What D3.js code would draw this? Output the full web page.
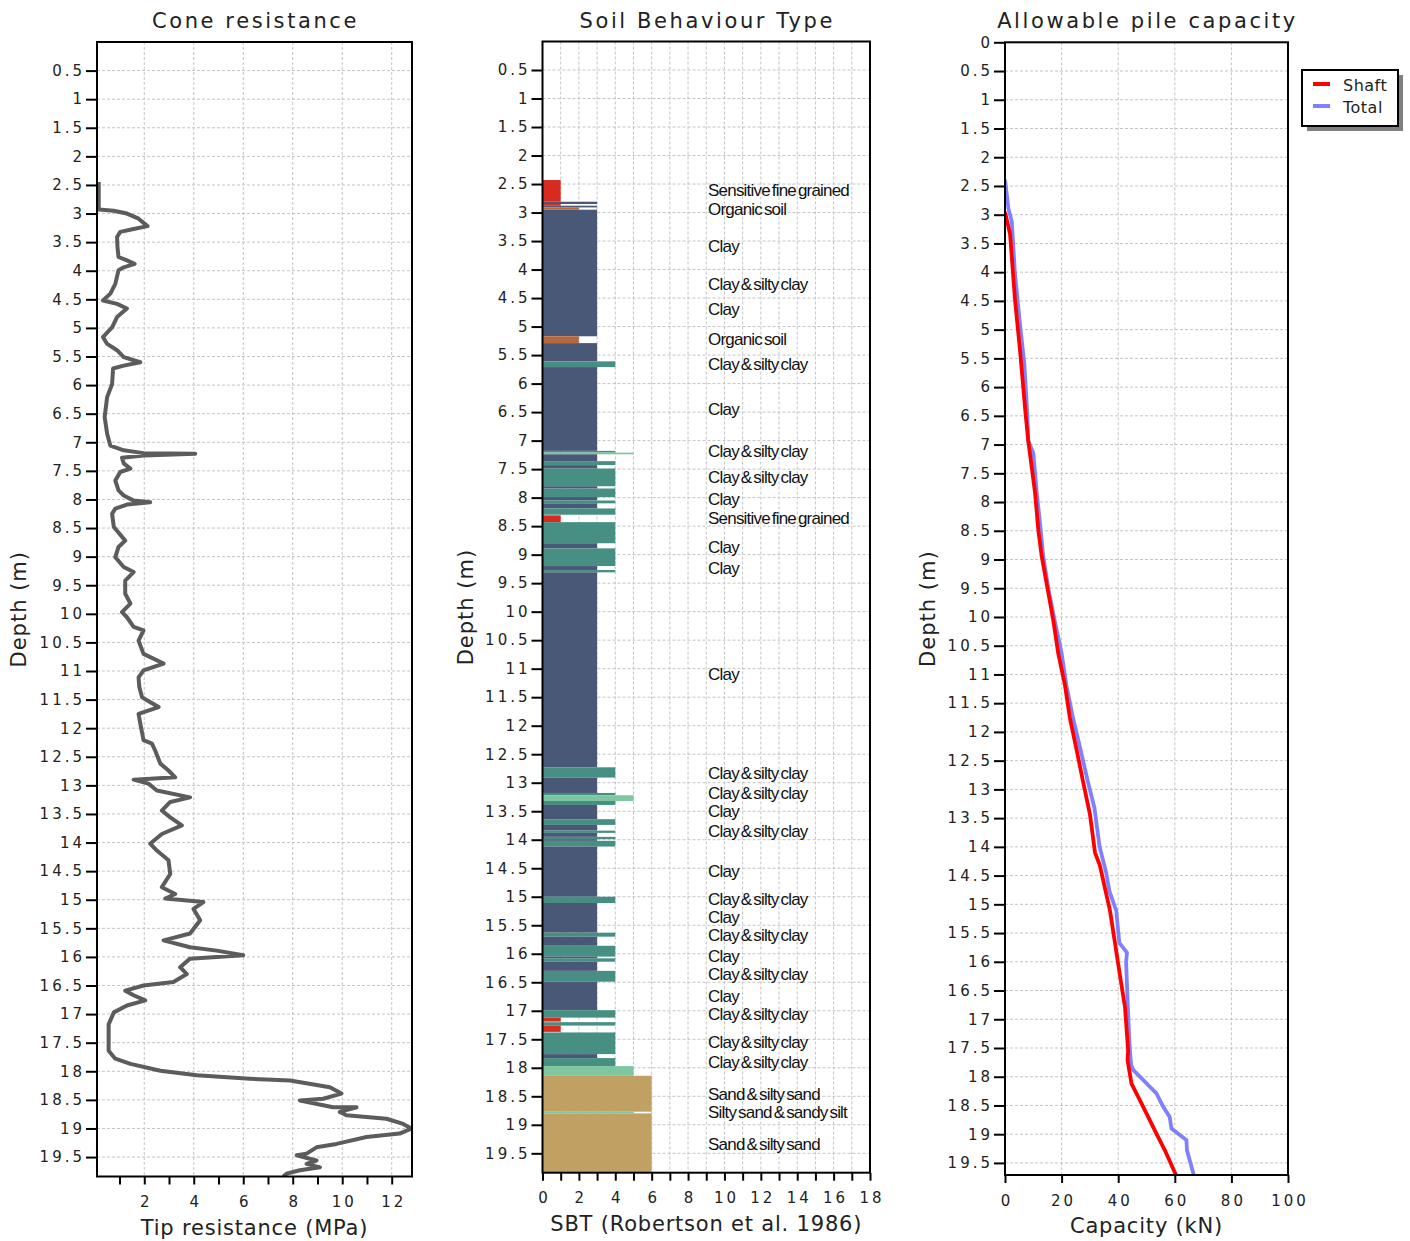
<!DOCTYPE html>
<html>
<head>
<meta charset="utf-8">
<script src="https://cdn.jsdelivr.net/npm/d3@7"></script>
<style>
body { margin: 0; background: #fff; }
</style>
</head>
<body>
<svg id="chart" width="1410" height="1241"></svg>
<script>
//depth ticks (m) shared by all three panels
var depthTicks = [0.5,1,1.5,2,2.5,3,3.5,4,4.5,5,5.5,6,6.5,7,7.5,8,8.5,9,9.5,10,
  10.5,11,11.5,12,12.5,13,13.5,14,14.5,15,15.5,16,16.5,17,17.5,18,18.5,19,19.5];
var capDepthTicks = [0].concat(depthTicks);

//x ticks
var coneTicks = [1,2,3,4,5,6,7,8,9,10,11,12];
var coneGrid = [2,4,6,8,10,12];
var sbtTicks = [0,1,2,3,4,5,6,7,8,9,10,11,12,13,14,15,16,17,18];
var capTicks = [0,20,40,60,80,100];

//cone resistance profile: depth (m) / qc (MPa)
var coneDepth = [2.45,2.93,2.95,3.00,3.09,3.22,3.27,3.32,3.41,3.60,3.76,3.82,3.88,3.94,3.99,
  4.23,4.40,4.52,4.58,4.66,4.81,4.99,5.16,5.28,5.39,5.51,5.60,5.66,5.71,5.98,6.21,6.56,6.85,
  7.06,7.14,7.19,7.20,7.23,7.27,7.37,7.46,7.52,7.67,7.84,7.93,8.02,8.05,8.09,8.16,8.25,8.48,
  8.72,8.83,9.01,9.18,9.27,9.42,9.65,9.82,9.97,10.06,10.23,10.29,10.47,10.70,10.87,10.99,
  11.11,11.28,11.46,11.51,11.63,11.75,11.92,12.21,12.27,12.39,12.62,12.74,12.86,12.90,12.97,
  13.09,13.21,13.29,13.44,13.56,13.70,13.85,14.02,14.14,14.31,14.55,14.78,14.90,14.98,15.04,
  15.16,15.36,15.59,15.71,15.83,15.89,15.97,16.03,16.18,16.30,16.44,16.50,16.59,16.67,16.76,
  16.85,16.97,17.18,17.64,17.78,17.87,17.99,18.07,18.13,18.16,18.28,18.39,18.48,18.51,18.63,
  18.63,18.71,18.77,18.83,18.92,19.00,19.09,19.15,19.27,19.33,19.44,19.47,19.56,19.62,19.68,
  19.73,19.79,19.84];
var coneQc = [0.16,0.16,0.76,1.30,1.77,2.13,1.57,1.03,0.90,0.92,0.96,1.30,1.61,1.17,0.96,
  0.83,0.63,0.33,0.90,1.30,0.90,0.70,0.33,0.50,0.90,1.17,1.84,1.17,0.74,0.70,0.50,0.40,0.50,
  0.63,1.17,1.97,4.06,1.97,1.10,1.17,1.44,1.03,0.83,0.96,1.17,1.57,2.24,1.30,0.83,0.70,0.77,
  1.23,0.96,0.83,1.17,1.57,1.23,1.23,1.44,1.10,1.30,1.57,1.97,1.77,1.97,2.78,1.97,
  1.77,1.80,1.91,2.11,2.58,1.77,1.84,1.97,2.31,2.44,2.65,2.98,3.25,1.57,2.17,
  2.51,3.85,3.05,2.71,3.05,3.52,2.71,2.24,2.51,2.98,3.05,2.71,3.25,2.85,4.39,
  3.99,4.26,3.85,2.78,3.85,4.93,6.00,3.85,3.45,3.72,3.18,1.97,1.23,1.57,2.04,
  1.30,0.77,0.56,0.56,0.83,1.44,2.65,4.12,6.27,7.89,9.50,9.97,9.23,8.29,9.63,
  10.58,9.90,10.17,11.79,12.46,12.80,12.32,10.98,9.77,8.96,8.56,8.16,8.96,8.56,9.10,
  8.29,7.75,7.62];

//soil behaviour type layers: top (m), bottom (m), zone
var sbtTop = [2.43,2.81,2.85,2.88,2.91,2.95,5.17,5.29,5.61,5.71,7.18,7.21,7.24,7.36,7.43,7.49,
  7.80,7.84,7.99,8.05,8.10,8.19,8.31,8.43,8.80,8.89,9.20,9.27,9.31,12.73,12.91,13.18,13.22,
  13.32,13.39,13.64,13.74,13.84,13.88,13.95,13.99,14.02,14.12,15.00,15.11,15.63,15.70,15.86,
  16.05,16.08,16.14,16.30,16.49,16.99,17.12,17.20,17.26,17.38,17.76,17.83,17.97,18.14,18.77,18.80];
var sbtBottom = [2.81,2.85,2.88,2.91,2.95,5.17,5.29,5.61,5.71,7.18,7.21,7.24,7.36,7.43,7.49,7.80,
  7.84,7.99,8.05,8.10,8.19,8.30,8.43,8.80,8.89,9.20,9.27,9.31,12.73,12.91,13.18,13.22,13.32,
  13.39,13.64,13.74,13.84,13.88,13.95,13.99,14.02,14.12,15.00,15.11,15.63,15.70,15.86,16.05,
  16.08,16.14,16.30,16.49,16.99,17.12,17.19,17.26,17.37,17.76,17.83,17.97,18.14,18.77,18.80,19.84];
var sbtZone = [1,3,1,3,2,3,2,3,4,3,4,5,3,4,3,4,3,4,3,4,3,4,1,4,3,4,3,4,3,4,3,4,5,
  4,3,4,3,4,3,4,3,4,3,4,3,4,3,4,3,4,3,4,3,4,1,4,1,4,3,4,5,6,5,6];
var zoneColors = {1:'#d92a1f', 2:'#b5683f', 3:'#4a5878', 4:'#468f82', 5:'#7dc6a0', 6:'#c0a063'};

//soil type annotations: depth (m) / text
var sbtLabelDepth = [2.61,2.93,3.58,4.26,4.70,5.22,5.65,6.45,7.19,7.64,8.03,8.36,8.87,9.24,
  11.10,12.83,13.18,13.50,13.85,14.55,15.04,15.36,15.67,16.04,16.36,16.74,17.06,17.55,17.90,
  18.46,18.78,19.34];
var sbtLabelText = ['Sensitive fine grained','Organic soil','Clay','Clay & silty clay','Clay',
  'Organic soil','Clay & silty clay','Clay','Clay & silty clay','Clay & silty clay','Clay',
  'Sensitive fine grained','Clay','Clay','Clay','Clay & silty clay','Clay & silty clay','Clay',
  'Clay & silty clay','Clay','Clay & silty clay','Clay','Clay & silty clay','Clay',
  'Clay & silty clay','Clay','Clay & silty clay','Clay & silty clay','Clay & silty clay',
  'Sand & silty sand','Silty sand & sandy silt','Sand & silty sand'];

//allowable pile capacity: depth (m) / kN
var shaftDepth = [2.95,3.34,4.46,5.36,6.48,6.93,7.83,8.50,8.95,10.07,10.63,11.19,11.75,12.31,
  12.87,13.43,14.10,14.32,15.11,16.23,16.79,17.54,17.71,18.12,18.52,18.99,19.28,19.71];
var shaftCap = [0,1.8,3.5,5.3,7.3,8.2,10.6,11.8,13.0,17.1,18.8,21.2,22.9,25.3,
  27.6,30.0,31.8,33.5,37.1,40.6,42.4,43.5,43.3,44.7,48.8,53.5,56.5,60.4];
var totalDepth = [2.39,2.89,3.12,4.01,4.91,5.58,6.48,6.93,7.15,7.83,8.38,8.94,9.50,10.07,10.63,
  11.19,11.75,12.31,12.87,13.32,13.99,14.44,14.77,15.11,15.67,15.84,16.01,16.79,17.54,17.80,
  17.88,18.29,18.52,18.70,18.90,19.10,19.28,19.71];
var totalCap = [0,1.2,2.4,3.5,5.3,6.8,7.9,8.2,10.0,11.2,12.4,13.5,15.3,17.6,20.0,
  21.7,24.0,26.7,29.3,31.6,33.4,35.7,36.9,39.3,40.4,43.1,42.8,43.4,44.1,44.6,
  45.3,53.5,55.9,58.2,58.8,64.1,64.3,66.7];

var svg = d3.select('#chart');
var FONT = '"DejaVu Sans", Verdana, sans-serif';

//draws grid, box, axes and titles for one panel, returns a group for the data
function makePanel(p) {
  var xr = p.x.range(), yr = p.y.range();
  var g = svg.append('g');

  //grid lines
  g.selectAll('line.hg').data(p.yGrid).enter().append('line')
    .attr('x1', xr[0]).attr('x2', xr[1])
    .attr('y1', d => p.y(d)).attr('y2', d => p.y(d))
    .attr('stroke', '#c4c4c4').attr('stroke-dasharray', '3,2');
  g.selectAll('line.vg').data(p.xGrid).enter().append('line')
    .attr('x1', d => p.x(d)).attr('x2', d => p.x(d))
    .attr('y1', yr[0]).attr('y2', yr[1])
    .attr('stroke', '#c4c4c4').attr('stroke-dasharray', '3,2');

  var clipId = 'clip' + p.id;
  svg.append('clipPath').attr('id', clipId).append('rect')
    .attr('x', xr[0]).attr('y', yr[0])
    .attr('width', xr[1] - xr[0]).attr('height', yr[1] - yr[0]);
  var data = g.append('g').attr('clip-path', 'url(#' + clipId + ')');

  //axes
  var yAxis = d3.axisLeft(p.y).tickValues(p.yTicks).tickFormat(d => d)
    .tickSize(11).tickPadding(1).tickSizeOuter(0);
  var ya = svg.append('g').attr('transform', 'translate(' + xr[0] + ',0)').call(yAxis);
  var xAxis = d3.axisBottom(p.x).tickValues(p.xTicks).tickFormat(p.xFormat)
    .tickSize(8).tickPadding(12).tickSizeOuter(0);
  var xa = svg.append('g').attr('transform', 'translate(0,' + yr[1] + ')').call(xAxis);
  [ya, xa].forEach(function(a) {
    a.select('.domain').remove();
    a.selectAll('line').attr('stroke', '#000').attr('stroke-width', 2);
    a.selectAll('text').attr('fill', '#222').style('font-family', FONT)
      .style('font-size', '15px').style('letter-spacing', '3px');
  });
  xa.selectAll('text').attr('dx', '1.5');

  //box
  svg.append('rect').attr('x', xr[0]).attr('y', yr[0])
    .attr('width', xr[1] - xr[0]).attr('height', yr[1] - yr[0])
    .attr('fill', 'none').attr('stroke', '#000').attr('stroke-width', 2);

  var cx = (xr[0] + xr[1]) / 2;
  svg.append('text').attr('x', cx + 1).attr('y', 28).attr('text-anchor', 'middle')
    .attr('fill', '#222').style('font-family', FONT).style('font-size', '21px')
    .style('letter-spacing', '2.6px').text(p.title);
  svg.append('text').attr('x', cx).attr('y', yr[1] + 58).attr('text-anchor', 'middle')
    .attr('fill', '#222').style('font-family', FONT).style('font-size', '21px')
    .style('letter-spacing', '0.8px').text(p.xTitle);
  svg.append('text')
    .attr('transform', 'translate(' + p.yTitleX + ',' + ((yr[0] + yr[1]) / 2) + ') rotate(-90)')
    .attr('text-anchor', 'middle').attr('fill', '#222')
    .style('font-family', FONT).style('font-size', '21px').style('letter-spacing', '1px')
    .text('Depth (m)');
  return data;
}

//Cone resistance
var xCone = d3.scaleLinear().domain([0.09, 12.82]).range([97, 412]);
var yCone = d3.scaleLinear().domain([0, 19.84]).range([42, 1176.5]);
var coneG = makePanel({id: 1, x: xCone, y: yCone, yGrid: depthTicks, xGrid: coneGrid,
  yTicks: depthTicks, xTicks: coneTicks, xFormat: d => (d % 2 === 0 ? d : ''),
  title: 'Cone resistance', xTitle: 'Tip resistance (MPa)', yTitleX: 26});
var coneLine = d3.line().x((d, i) => xCone(coneQc[i])).y(d => yCone(d));
coneG.append('path').datum(coneDepth).attr('d', coneLine)
  .attr('fill', 'none').attr('stroke', '#5c5c5c').attr('stroke-width', 4)
  .attr('stroke-linejoin', 'round');

//Soil Behaviour Type
var xSbt = d3.scaleLinear().domain([0, 18]).range([542.5, 870]);
var ySbt = d3.scaleLinear().domain([0, 19.84]).range([41.5, 1172.7]);
var sbtG = makePanel({id: 2, x: xSbt, y: ySbt, yGrid: depthTicks, xGrid: sbtTicks.slice(1),
  yTicks: depthTicks, xTicks: sbtTicks, xFormat: d => (d % 2 === 0 ? d : ''),
  title: 'Soil Behaviour Type', xTitle: 'SBT (Robertson et al. 1986)', yTitleX: 473});
sbtG.selectAll('rect.layer').data(sbtZone).enter().append('rect')
  .attr('x', xSbt(0))
  .attr('y', (d, i) => ySbt(sbtTop[i]))
  .attr('width', d => xSbt(d) - xSbt(0))
  .attr('height', (d, i) => ySbt(sbtBottom[i]) - ySbt(sbtTop[i]))
  .attr('fill', d => zoneColors[d]);
sbtG.selectAll('text.lab').data(sbtLabelText).enter().append('text')
  .attr('x', xSbt(9.1))
  .attr('y', (d, i) => ySbt(sbtLabelDepth[i]))
  .attr('dy', '0.35em').attr('fill', '#111')
  .style('font-family', '"Liberation Sans", Arial, sans-serif').style('font-size', '17px')
  .style('letter-spacing', '-0.8px').style('word-spacing', '-2px')
  .text(d => d);

//Allowable pile capacity
var xCap = d3.scaleLinear().domain([0, 100]).range([1005, 1288]);
var yCap = d3.scaleLinear().domain([0, 19.71]).range([42.3, 1175]);
var capG = makePanel({id: 3, x: xCap, y: yCap, yGrid: depthTicks, xGrid: capTicks.slice(1, 5),
  yTicks: capDepthTicks, xTicks: capTicks, xFormat: d => d,
  title: 'Allowable pile capacity', xTitle: 'Capacity (kN)', yTitleX: 935});
var capSeries = [
  {name: 'Shaft', color: '#ff0000', depth: shaftDepth, cap: shaftCap},
  {name: 'Total', color: '#8080ff', depth: totalDepth, cap: totalCap}
];
capSeries.slice().reverse().forEach(function(s) {
  var line = d3.line().x((d, i) => xCap(s.cap[i])).y(d => yCap(d));
  capG.append('path').datum(s.depth).attr('d', line)
    .attr('fill', 'none').attr('stroke', s.color).attr('stroke-width', 3.8)
    .attr('stroke-linejoin', 'round');
});

//legend with drop shadow
var lg = svg.append('g').attr('transform', 'translate(1302,70)');
lg.append('rect').attr('x', 5).attr('y', 5).attr('width', 96).attr('height', 56).attr('fill', '#808080');
lg.append('rect').attr('width', 96).attr('height', 56)
  .attr('fill', '#fff').attr('stroke', '#000').attr('stroke-width', 2);
capSeries.forEach(function(s, i) {
  lg.append('line').attr('x1', 11).attr('x2', 28).attr('y1', 14 + i * 22).attr('y2', 14 + i * 22)
    .attr('stroke', s.color).attr('stroke-width', 4);
  lg.append('text').attr('x', 41).attr('y', 21 + i * 22).attr('fill', '#222')
    .style('font-family', FONT).style('font-size', '16px').style('letter-spacing', '0.5px')
    .text(s.name);
});
</script>
</body>
</html>
